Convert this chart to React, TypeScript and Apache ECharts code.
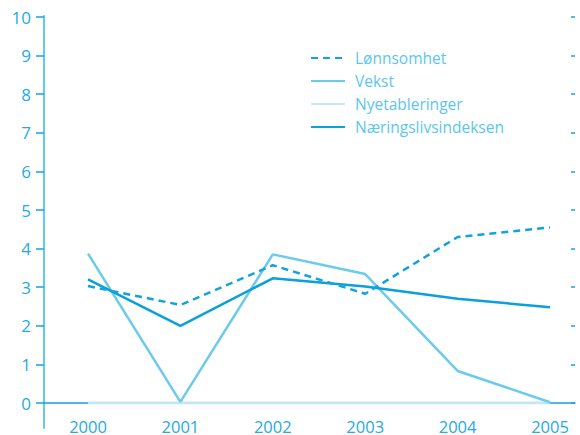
import React, { useEffect, useRef } from "react";
import * as echarts from "echarts";

const years = ["2000", "2001", "2002", "2003", "2004", "2005"];
const lonnsomhet = [3.03, 2.54, 3.57, 2.83, 4.3, 4.55];
const vekst = [3.87, 0.03, 3.85, 3.34, 0.83, 0.02];
const nyetableringer = [0, 0, 0, 0, 0, 0];
const naeringslivsindeksen = [3.2, 2.0, 3.23, 3.02, 2.7, 2.48];
const yTicks = { min: 0, max: 10, interval: 1 };

const FONT = "Open Sans";
const LABEL = "#25aae3";

export default function App() {
  const ref = useRef<HTMLDivElement>(null);
  useEffect(() => {
    if (!ref.current) return;
    const chart = echarts.init(ref.current, null, { renderer: "svg" });
    chart.setOption({
      animation: false,
      backgroundColor: "#ffffff",
      textStyle: { fontFamily: FONT },
      legend: {
        orient: "vertical",
        left: 305,
        top: 45,
        itemWidth: 34,
        itemHeight: 14,
        itemGap: 7,
        itemStyle: { opacity: 0 },
        textStyle: { color: "#5cc6ee", fontSize: 15.5, fontFamily: FONT, padding: [0, 0, 0, 5] },
        data: ["Lønnsomhet", "Vekst", "Nyetableringer", "Næringslivsindeksen"],
      },
      grid: [
        { left: 88, right: 30, top: 17, bottom: 32 },
        { left: 44, right: 5, top: 17, bottom: 32 },
        { left: 44, width: 1, top: 16, bottom: 7 },
      ],
      xAxis: [
        {
          type: "category",
          gridIndex: 0,
          data: years,
          boundaryGap: false,
          axisLine: { show: false },
          axisTick: { show: false },
          axisLabel: { color: LABEL, fontSize: 16.5, margin: 15, fontFamily: FONT },
          splitLine: { show: false },
        },
        {
          type: "value",
          gridIndex: 1,
          min: 0,
          max: 1,
          axisLine: { show: true, onZero: false, lineStyle: { color: "#1ba0d9", width: 1.5 } },
          axisTick: { show: false },
          axisLabel: { show: false },
          splitLine: { show: false },
        },
        { type: "value", gridIndex: 2, show: false, min: 0, max: 1 },
      ],
      yAxis: [
        { type: "value", gridIndex: 0, show: false, min: yTicks.min, max: yTicks.max, interval: yTicks.interval },
        {
          type: "value",
          gridIndex: 1,
          min: yTicks.min,
          max: yTicks.max,
          interval: yTicks.interval,
          axisLine: { show: false },
          axisTick: { show: true, inside: false, length: 8, lineStyle: { color: "#1aa3dc", width: 1.5 } },
          axisLabel: { color: LABEL, fontSize: 17, margin: 13, fontFamily: FONT },
          splitLine: { show: false },
        },
        {
          type: "value",
          gridIndex: 1,
          min: yTicks.min,
          max: yTicks.max,
          interval: yTicks.interval,
          axisLine: { show: false },
          axisTick: { show: true, inside: true, length: 4, lineStyle: { color: "#1aa3dc", width: 1.5 } },
          axisLabel: { show: false },
          splitLine: { show: false },
        },
        {
          type: "value",
          gridIndex: 2,
          min: 0,
          max: 1,
          axisLine: { show: true, lineStyle: { color: "#62c9ef", width: 2 } },
          axisTick: { show: false },
          axisLabel: { show: false },
          splitLine: { show: false },
        },
      ],
      series: [
        {
          name: "Nyetableringer",
          type: "line",
          data: nyetableringer,
          symbol: "none",
          z: 3,
          lineStyle: { color: "#c3e7f6", width: 3 },
          itemStyle: { color: "#c3e7f6" },
        },
        {
          name: "Vekst",
          type: "line",
          data: vekst,
          symbol: "none",
          z: 4,
          lineStyle: { color: "#6ccaec", width: 2.5 },
          itemStyle: { color: "#6ccaec" },
        },
        {
          name: "Næringslivsindeksen",
          type: "line",
          data: naeringslivsindeksen,
          symbol: "none",
          z: 5,
          lineStyle: { color: "#0aa0da", width: 2.5 },
          itemStyle: { color: "#0aa0da" },
        },
        {
          name: "Lønnsomhet",
          type: "line",
          data: lonnsomhet,
          symbol: "none",
          z: 6,
          lineStyle: { color: "#14a2dc", width: 2.5, type: [7, 5] },
          itemStyle: { color: "#14a2dc" },
        },
      ],
    });
    return () => chart.dispose();
  }, []);
  return (
    <div
      ref={ref}
      style={{ position: "absolute", left: 0, top: 0, width: 580, height: 435 }}
    />
  );
}
